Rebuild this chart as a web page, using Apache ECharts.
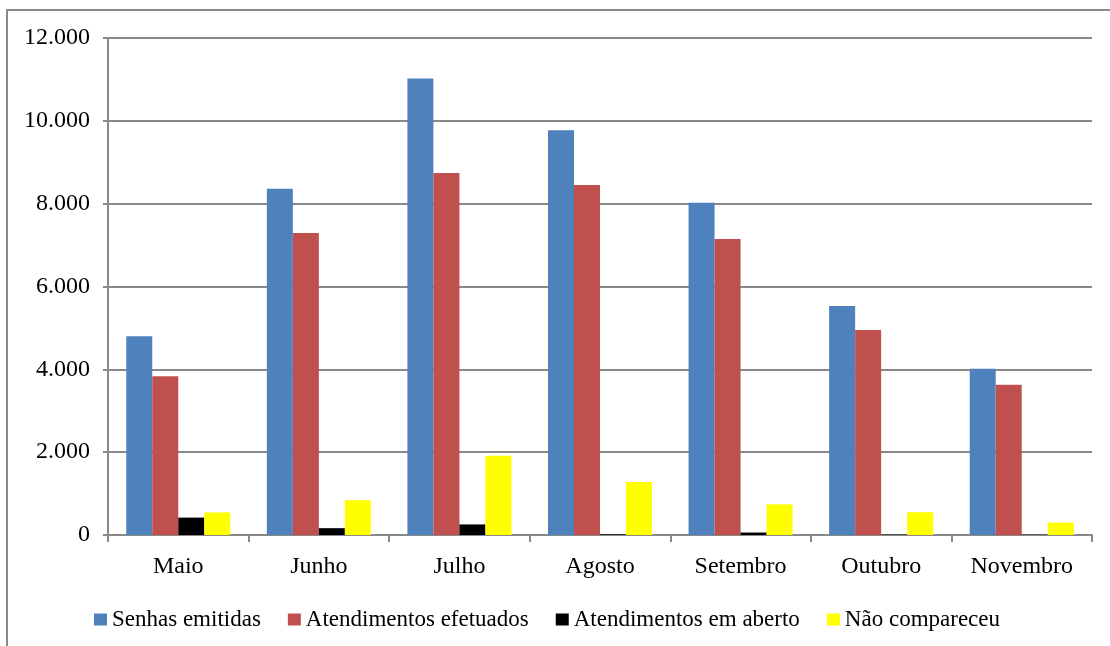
<!DOCTYPE html>
<html>
<head>
<meta charset="utf-8">
<script src="https://cdn.jsdelivr.net/npm/echarts@6/dist/echarts.min.js"></script>
<style>
html,body{margin:0;padding:0;background:#fff;}
#chart{width:1110px;height:646px;}
</style>
</head>
<body>
<div id="chart"></div>
<script>
var categories = ['Maio', 'Junho', 'Julho', 'Agosto', 'Setembro', 'Outubro', 'Novembro'];
var senhasEmitidas = [4800, 8360, 11025, 9770, 8020, 5530, 4015];
var atendimentosEfetuados = [3830, 7290, 8740, 8450, 7145, 4950, 3630];
var atendimentosEmAberto = [420, 165, 255, 15, 60, 10, 8];
var naoCompareceu = [545, 840, 1915, 1280, 740, 550, 300];
var seriesNames = ['Senhas emitidas', 'Atendimentos efetuados', 'Atendimentos em aberto', 'Não compareceu'];
var seriesColors = ['#4F81BD', '#C0504D', '#000000', '#FFFF00'];

var fontFam = '"Liberation Serif", "Times New Roman", serif';
var gray = '#898989';

function fmt(v) {
  return String(v).replace(/\B(?=(\d{3})+(?!\d))/g, '.');
}

var dataSets = [senhasEmitidas, atendimentosEfetuados, atendimentosEmAberto, naoCompareceu];
var series = dataSets.map(function (d, i) {
  return {
    name: seriesNames[i],
    type: 'bar',
    data: d,
    barGap: '0%',
    barCategoryGap: '26%',
    itemStyle: { color: seriesColors[i] },
    emphasis: { disabled: true }
  };
});

var chart = echarts.init(document.getElementById('chart'), null, { renderer: 'canvas' });
chart.setOption({
  animation: false,
  backgroundColor: '#ffffff',
  graphic: [{
    type: 'rect',
    shape: { x: 7, y: 10, width: 1200, height: 700 },
    style: { fill: 'none', stroke: gray, lineWidth: 2 },
    z: -1
  }],
  grid: { left: 108, right: 18, top: 38, bottom: 111, containLabel: false },
  legend: {
    data: seriesNames,
    left: 89,
    top: 603,
    itemWidth: 13,
    itemHeight: 12,
    itemGap: 27,
    icon: 'rect',
    textStyle: { fontFamily: fontFam, fontSize: 23, color: '#000' }
  },
  xAxis: {
    type: 'category',
    data: categories,
    boundaryGap: true,
    axisLine: { lineStyle: { color: gray, width: 2 } },
    axisTick: { show: true, length: 7, interval: 0, lineStyle: { color: gray, width: 2 } },
    axisLabel: { margin: 20, fontFamily: fontFam, fontSize: 24, color: '#000', interval: 0 }
  },
  yAxis: {
    type: 'value',
    min: 0,
    max: 12000,
    interval: 2000,
    axisLine: { show: true, lineStyle: { color: gray, width: 2 } },
    axisTick: { show: true, length: 5, lineStyle: { color: gray, width: 2 } },
    splitLine: { lineStyle: { color: gray, width: 2 } },
    axisLabel: { margin: 18, fontFamily: fontFam, fontSize: 24, color: '#000', formatter: fmt }
  },
  series: series
});
</script>
</body>
</html>
